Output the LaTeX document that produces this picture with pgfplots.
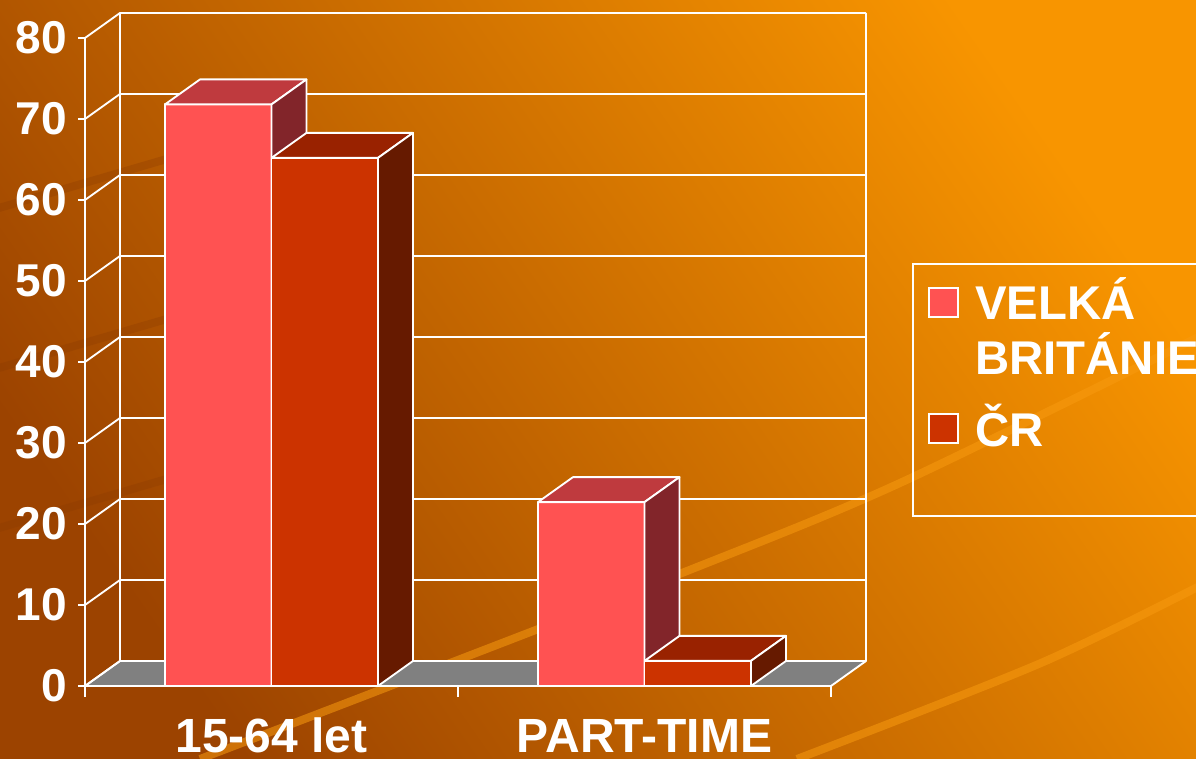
\documentclass[border=0pt]{standalone}
\usepackage{pgfplots}
\pgfplotsset{compat=1.18}
\usepackage{fontspec}
\setmainfont{Liberation Sans}
\definecolor{vbF}{HTML}{FF5252}
\definecolor{vbT}{HTML}{BF3A3E}
\definecolor{vbS}{HTML}{82252A}
\definecolor{crF}{HTML}{CC3300}
\definecolor{crT}{HTML}{992200}
\definecolor{crS}{HTML}{661A00}
\definecolor{floorgray}{HTML}{808080}
\definecolor{bgD}{HTML}{9C4300}
\definecolor{bgB}{HTML}{F89500}
\definecolor{swL}{HTML}{F89A10}
\definecolor{swD}{HTML}{8A3A00}
\begin{document}
\begin{tikzpicture}
\clip (0,0) rectangle (897pt,569.25pt);
\shade[top color=bgB, bottom color=bgD, shading angle=-55] (0,0) rectangle (897pt,569.25pt);
% decorative swooshes
\draw[swL, opacity=0.55, line width=6pt] plot[smooth] coordinates {(150pt,0pt) (285pt,51.75pt) (511.5pt,139.5pt) (675pt,207pt) (910pt,322pt)};
\draw[swL, opacity=0.55, line width=6pt] plot[smooth] coordinates {(597.75pt,0pt) (780.75pt,72pt) (910pt,135pt)};
\draw[swD, opacity=0.3, line width=6pt] (-5pt,412pt) -- (217.5pt,477pt);
\draw[swD, opacity=0.3, line width=6pt] (-5pt,292pt) -- (217.5pt,357pt);
\draw[swD, opacity=0.3, line width=6pt] (-5pt,172pt) -- (217.5pt,237pt);
\begin{axis}[
  anchor=origin, at={(63.75pt,54.75pt)},
  x={(279.75pt,0pt)}, y={(26.25pt,18.75pt)}, z={(0pt,6.075pt)},
  xmin=0,xmax=2,ymin=0,ymax=1,zmin=0,zmax=80,
  hide axis, clip=false,
  every axis plot/.append style={line join=round, draw=white, line width=1.4pt},
]
% floor
\addplot3[fill=floorgray] coordinates {(0,0,0) (2,0,0) (2,1,0) (0,1,0) (0,0,0)};
% grid lines on left and back walls
\pgfplotsinvokeforeach{0,10,20,30,40,50,60,70,80}{
  \addplot3[white] coordinates {(0,0,#1) (0,1,#1) (2,1,#1)};
}
\addplot3[white] coordinates {(0,0,0) (0,0,80)};
\addplot3[white] coordinates {(0,1,0) (0,1,80)};
\addplot3[white] coordinates {(2,1,0) (2,1,80)};
% bars: VELKA BRITANIE 15-64
\addplot3[fill=vbF] coordinates {(0.2145,0,0) (0.5,0,0) (0.5,0,71.8) (0.2145,0,71.8) (0.2145,0,0)};
\addplot3[fill=vbT] coordinates {(0.2145,0,71.8) (0.5,0,71.8) (0.5,1,71.8) (0.2145,1,71.8) (0.2145,0,71.8)};
\addplot3[fill=vbS] coordinates {(0.5,0,0) (0.5,1,0) (0.5,1,71.8) (0.5,0,71.8) (0.5,0,0)};
% CR 15-64
\addplot3[fill=crF] coordinates {(0.5,0,0) (0.7855,0,0) (0.7855,0,65.2) (0.5,0,65.2) (0.5,0,0)};
\addplot3[fill=crT] coordinates {(0.5,0,65.2) (0.7855,0,65.2) (0.7855,1,65.2) (0.5,1,65.2) (0.5,0,65.2)};
\addplot3[fill=crS] coordinates {(0.7855,0,0) (0.7855,1,0) (0.7855,1,65.2) (0.7855,0,65.2) (0.7855,0,0)};
% VB part-time
\addplot3[fill=vbF] coordinates {(1.2145,0,0) (1.5,0,0) (1.5,0,22.7) (1.2145,0,22.7) (1.2145,0,0)};
\addplot3[fill=vbT] coordinates {(1.2145,0,22.7) (1.5,0,22.7) (1.5,1,22.7) (1.2145,1,22.7) (1.2145,0,22.7)};
\addplot3[fill=vbS] coordinates {(1.5,0,0) (1.5,1,0) (1.5,1,22.7) (1.5,0,22.7) (1.5,0,0)};
% CR part-time
\addplot3[fill=crF] coordinates {(1.5,0,0) (1.7855,0,0) (1.7855,0,3.1) (1.5,0,3.1) (1.5,0,0)};
\addplot3[fill=crT] coordinates {(1.5,0,3.1) (1.7855,0,3.1) (1.7855,1,3.1) (1.5,1,3.1) (1.5,0,3.1)};
\addplot3[fill=crS] coordinates {(1.7855,0,0) (1.7855,1,0) (1.7855,1,3.1) (1.7855,0,3.1) (1.7855,0,0)};
% ticks
\pgfplotsinvokeforeach{0,10,20,30,40,50,60,70,80}{
  \draw[white, line width=1.4pt] (axis cs:0,0,#1) -- ++(-5.5pt,0pt);
  \node[anchor=east, text=white, inner sep=0pt, font=\fontsize{34.5}{40}\selectfont\bfseries] at ([xshift=-13.5pt]axis cs:0,0,#1) {#1};
}
\pgfplotsinvokeforeach{0,1,2}{
  \draw[white, line width=1.4pt] (axis cs:#1,0,0) -- ++(0pt,-8.5pt);
}
\node[anchor=base, text=white, inner sep=0pt, font=\fontsize{36}{40}\selectfont\bfseries] at ([yshift=-50.25pt]axis cs:0.5,0,0) {15-64 let};
\node[anchor=base, text=white, inner sep=0pt, font=\fontsize{36}{40}\selectfont\bfseries] at ([yshift=-50.25pt]axis cs:1.5,0,0) {PART-TIME};
\end{axis}
% legend
\draw[white, line width=1pt] (684.75pt,182.25pt) rectangle (905pt,371.25pt);
\draw[white, line width=0.8pt, fill=vbF] (696.75pt,331.5pt) rectangle (718.5pt,353.25pt);
\draw[white, line width=0.8pt, fill=crF] (696.75pt,237pt) rectangle (718.5pt,258.75pt);
\node[anchor=base west, inner sep=0pt, text=white, font=\fontsize{35.5}{40}\selectfont\bfseries] at (731.25pt,329.25pt) {VELKÁ};
\node[anchor=base west, inner sep=0pt, text=white, font=\fontsize{35.5}{40}\selectfont\bfseries] at (731.25pt,288pt) {BRITÁNIE};
\node[anchor=base west, inner sep=0pt, text=white, font=\fontsize{35.5}{40}\selectfont\bfseries] at (731.25pt,234pt) {ČR};
\end{tikzpicture}
\end{document}
